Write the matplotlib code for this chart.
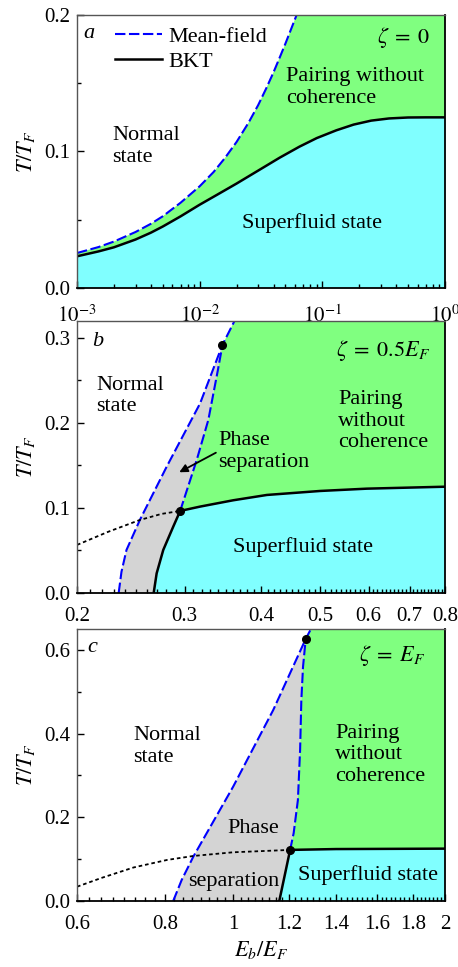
import numpy as np
import matplotlib
matplotlib.use("Agg")
import matplotlib.pyplot as plt
from matplotlib.ticker import FixedLocator, FuncFormatter, NullFormatter, LogLocator, MultipleLocator

plt.rcParams['font.family'] = ['Liberation Serif', 'DejaVu Serif']
plt.rcParams['mathtext.fontset'] = 'stix'

# ---------------- data ----------------
# panel a: zeta = 0
a_mf_x = [0.001, 0.0015, 0.002, 0.003, 0.004, 0.005, 0.007, 0.010, 0.013, 0.016,
          0.020, 0.025, 0.030, 0.035, 0.040, 0.045, 0.050, 0.055, 0.0617]
a_mf_t = [0.0256, 0.0300, 0.0340, 0.0410, 0.0470, 0.0525, 0.0625, 0.0745, 0.0850, 0.0950,
          0.1070, 0.1210, 0.1340, 0.1465, 0.1580, 0.1690, 0.1790, 0.1885, 0.2000]
a_bkt_x = [0.001, 0.0015, 0.002, 0.003, 0.004, 0.005, 0.007, 0.010, 0.014, 0.020, 0.030,
           0.045, 0.065, 0.090, 0.130, 0.180, 0.250, 0.350, 0.500, 0.700, 1.0]
a_bkt_t = [0.0232, 0.0268, 0.0298, 0.0355, 0.0405, 0.0450, 0.0525, 0.0610, 0.0685, 0.0765, 0.0860,
           0.0955, 0.1035, 0.1098, 0.1155, 0.1197, 0.1226, 0.1242, 0.1249, 0.1250, 0.1250]

# panel b: zeta = 0.5 E_F
b_mf_x = [0.234, 0.2365, 0.241, 0.2535, 0.2804, 0.318, 0.346]        # binodal (normal / phase sep.)
b_mf_t = [0.0, 0.025, 0.0506, 0.086, 0.1486, 0.223, 0.292]
b_mfup_x = [0.346, 0.362]                                              # mean-field above tricritical point
b_mfup_t = [0.292, 0.320]
b_sp_x = [0.295, 0.314, 0.328, 0.340, 0.346]                           # spinodal
b_sp_t = [0.0965, 0.1565, 0.2035, 0.262, 0.292]
b_bkt_x = [0.267, 0.270, 0.2768, 0.2874, 0.295, 0.318, 0.360, 0.409, 0.500, 0.596, 0.800]
b_bkt_t = [0.0, 0.0231, 0.0506, 0.078, 0.0965, 0.1016, 0.109, 0.1153, 0.120, 0.1227, 0.125]
b_dot_x = [0.200, 0.225, 0.2535, 0.275, 0.295]                         # metastable BKT
b_dot_t = [0.0565, 0.072, 0.0859, 0.093, 0.0965]
b_pts_x = [0.346, 0.295]
b_pts_t = [0.292, 0.0965]

# panel c: zeta = E_F
c_mf_x = [0.822, 0.845, 0.878, 1.0, 1.14, 1.268]
c_mf_t = [0.0, 0.050, 0.106, 0.273, 0.456, 0.626]
c_mfup_x = [1.268, 1.29]
c_mfup_t = [0.626, 0.650]
c_sp_x = [1.205, 1.219, 1.236, 1.245, 1.250, 1.257, 1.268]
c_sp_t = [0.122, 0.162, 0.241, 0.361, 0.480, 0.560, 0.626]
c_bkt_x = [1.163, 1.205, 1.40, 2.0]
c_bkt_t = [0.0, 0.122, 0.124, 0.125]
c_dot_x = [0.60, 0.65, 0.722, 0.8056, 0.878, 1.0, 1.205]
c_dot_t = [0.034, 0.055, 0.080, 0.098, 0.1075, 0.1163, 0.122]
c_pts_x = [1.268, 1.205]
c_pts_t = [0.626, 0.122]

# ticks
b_major = [0.2, 0.3, 0.4, 0.5, 0.6, 0.7, 0.8]
c_major = [0.6, 0.8, 1.0, 1.2, 1.4, 1.6, 1.8, 2.0]

GREEN = '#80ff80'
CYAN = '#80ffff'
GRAY = '#d4d4d4'
BLUE = '#0000ff'
FS = 16
TFS = 15

MFSTYLE = dict(color=BLUE, lw=1.5, ls=(0, (5, 1.7)))
BKTSTYLE = dict(color='black', lw=1.8)
DOTSTYLE = dict(color='black', lw=1.3, ls=(0, (2, 1.6)))

fig = plt.figure(figsize=(4.58, 9.67), dpi=100)
axa = fig.add_axes([0.1681, 0.7022, 0.8035, 0.2823])
axb = fig.add_axes([0.1681, 0.3868, 0.8035, 0.2813])
axc = fig.add_axes([0.1681, 0.0683, 0.8035, 0.2813])


def style(ax, xpad):
    ax.tick_params(which='both', direction='in', top=False, right=False,
                   labelsize=TFS, width=1.0)
    ax.tick_params(which='major', length=5)
    ax.tick_params(which='minor', length=3)
    ax.tick_params(axis='y', which='major', pad=5)
    ax.tick_params(axis='x', which='major', pad=xpad)
    for s in ['left', 'top']:
        ax.spines[s].set_color('#555555')
        ax.spines[s].set_linewidth(1.0)
    for s in ['right', 'bottom']:
        ax.spines[s].set_color('black')
        ax.spines[s].set_linewidth(1.3)
    ax.set_ylabel(r'$T/T_F$', fontsize=FS)
    ax.yaxis.set_label_coords(-0.11, 0.5)
    ax.yaxis.set_major_formatter(FuncFormatter(lambda v, p: '%.1f' % v))


# ---------------- panel a ----------------
ax = axa
XA0, XA1, YA1 = 1e-3, 1.0, 0.2
ax.set_xscale('log')
ax.set_xlim(XA0, XA1)
ax.set_ylim(0, YA1)
ax.fill_between(a_bkt_x, 0, a_bkt_t, color=CYAN, lw=0)
gx = list(a_mf_x) + [XA1] + a_bkt_x[::-1]
gy = list(a_mf_t) + [YA1] + a_bkt_t[::-1]
ax.fill(gx, gy, color=GREEN, lw=0)
ax.plot(a_mf_x, a_mf_t, label='Mean-field', **MFSTYLE)
ax.plot(a_bkt_x, a_bkt_t, label='BKT', **BKTSTYLE)
style(ax, 12.5)
ax.xaxis.set_major_locator(LogLocator(base=10, numticks=10))
ax.xaxis.set_minor_locator(LogLocator(base=10, subs=np.arange(2, 10), numticks=20))
ax.xaxis.set_major_formatter(FuncFormatter(lambda v, p: r'$10^{%d}$' % int(round(np.log10(v)))))
ax.xaxis.set_minor_formatter(NullFormatter())
ax.yaxis.set_major_locator(MultipleLocator(0.1))
ax.yaxis.set_minor_locator(MultipleLocator(0.05))
leg = ax.legend(loc='upper left', bbox_to_anchor=(0.103, 0.958), frameon=False,
                fontsize=FS, borderpad=0, borderaxespad=0, handlelength=2.1,
                handletextpad=0.3, labelspacing=0.2)
ax.text(0.016, 0.934, 'a', style='italic', fontsize=FS, transform=ax.transAxes, va='center')
ax.text(0.959, 0.916, r'$\zeta\;=\;0$', fontsize=FS, transform=ax.transAxes, ha='right', va='center')
ax.text(0.568, 0.733, 'Pairing without\ncoherence', fontsize=FS, transform=ax.transAxes, va='center')
ax.text(0.095, 0.518, 'Normal\nstate', fontsize=FS, transform=ax.transAxes, va='center')
ax.text(0.448, 0.238, 'Superfluid state', fontsize=FS, transform=ax.transAxes, va='center')

# ---------------- panel b ----------------
ax = axb
XB0, XB1, YB1 = 0.2, 0.8, 0.32
ax.set_xscale('log')
ax.set_xlim(XB0, XB1)
ax.set_ylim(0, YB1)
# phase separation region
px = list(b_mf_x) + b_sp_x[::-1] + b_bkt_x[:5][::-1]
py = list(b_mf_t) + b_sp_t[::-1] + b_bkt_t[:5][::-1]
ax.fill(px, py, color=GRAY, lw=0)
# pairing without coherence
gx = list(b_mfup_x) + [XB1] + b_bkt_x[4:][::-1] + b_sp_x
gy = list(b_mfup_t) + [YB1] + b_bkt_t[4:][::-1] + b_sp_t
ax.fill(gx, gy, color=GREEN, lw=0)
# superfluid
ax.fill(list(b_bkt_x) + [XB1], list(b_bkt_t) + [0], color=CYAN, lw=0)
ax.plot(b_mf_x + b_mfup_x[1:], b_mf_t + b_mfup_t[1:], **MFSTYLE)
ax.plot(b_sp_x, b_sp_t, **MFSTYLE)
ax.plot(b_dot_x, b_dot_t, **DOTSTYLE)
ax.plot(b_bkt_x, b_bkt_t, **BKTSTYLE)
ax.plot(b_pts_x, b_pts_t, 'o', color='black', ms=5.5, zorder=5)
style(ax, 10)
ax.xaxis.set_major_locator(FixedLocator(b_major))
ax.xaxis.set_minor_locator(FixedLocator(np.arange(0.20, 0.805, 0.01)))
ax.xaxis.set_major_formatter(FuncFormatter(lambda v, p: '%g' % v))
ax.xaxis.set_minor_formatter(NullFormatter())
ax.yaxis.set_major_locator(MultipleLocator(0.1))
ax.yaxis.set_minor_locator(MultipleLocator(0.05))
ax.text(0.041, 0.926, 'b', style='italic', fontsize=FS, transform=ax.transAxes, va='center')
ax.text(0.959, 0.893, r'$\zeta\;=\;0.5E_F$', fontsize=FS, transform=ax.transAxes, ha='right', va='center')
ax.text(0.052, 0.724, 'Normal\nstate', fontsize=FS, transform=ax.transAxes, va='center')
ax.text(0.709, 0.632, 'Pairing\nwithout\ncoherence', fontsize=FS, transform=ax.transAxes, va='center')
ax.text(0.383, 0.520, 'Phase\nseparation', fontsize=FS, transform=ax.transAxes, va='center')
ax.text(0.424, 0.169, 'Superfluid state', fontsize=FS, transform=ax.transAxes, va='center')
ax.annotate('', xy=(0.294, 0.142), xytext=(0.3375, 0.165),
            arrowprops=dict(arrowstyle='-|>', color='black', lw=1.3,
                            mutation_scale=12, shrinkA=0, shrinkB=0))

# ---------------- panel c ----------------
ax = axc
XC0, XC1, YC1 = 0.6, 2.0, 0.65
ax.set_xscale('log')
ax.set_xlim(XC0, XC1)
ax.set_ylim(0, YC1)
px = list(c_mf_x) + c_sp_x[::-1] + c_bkt_x[:2][::-1]
py = list(c_mf_t) + c_sp_t[::-1] + c_bkt_t[:2][::-1]
ax.fill(px, py, color=GRAY, lw=0)
gx = list(c_mfup_x) + [XC1] + c_bkt_x[1:][::-1] + c_sp_x
gy = list(c_mfup_t) + [YC1] + c_bkt_t[1:][::-1] + c_sp_t
ax.fill(gx, gy, color=GREEN, lw=0)
ax.fill(list(c_bkt_x) + [XC1], list(c_bkt_t) + [0], color=CYAN, lw=0)
ax.plot(c_mf_x + c_mfup_x[1:], c_mf_t + c_mfup_t[1:], **MFSTYLE)
ax.plot(c_sp_x, c_sp_t, **MFSTYLE)
ax.plot(c_dot_x, c_dot_t, **DOTSTYLE)
ax.plot(c_bkt_x, c_bkt_t, **BKTSTYLE)
ax.plot(c_pts_x, c_pts_t, 'o', color='black', ms=5.5, zorder=5)
style(ax, 10)
ax.xaxis.set_major_locator(FixedLocator(c_major))
ax.xaxis.set_minor_locator(FixedLocator(np.arange(0.6, 2.001, 0.025)))
ax.xaxis.set_major_formatter(FuncFormatter(lambda v, p: '%g' % v))
ax.xaxis.set_minor_formatter(NullFormatter())
ax.yaxis.set_major_locator(MultipleLocator(0.2))
ax.yaxis.set_minor_locator(MultipleLocator(0.1))
ax.set_xlabel(r'$E_b/E_F$', fontsize=FS)
ax.xaxis.set_label_coords(0.5, -0.14)
ax.text(0.027, 0.930, 'c', style='italic', fontsize=FS, transform=ax.transAxes, va='center')
ax.text(0.946, 0.904, r'$\zeta\;=\;E_F$', fontsize=FS, transform=ax.transAxes, ha='right', va='center')
ax.text(0.152, 0.568, 'Normal\nstate', fontsize=FS, transform=ax.transAxes, va='center')
ax.text(0.701, 0.537, 'Pairing\nwithout\ncoherence', fontsize=FS, transform=ax.transAxes, va='center')
ax.text(0.408, 0.268, 'Phase', fontsize=FS, transform=ax.transAxes, va='center')
ax.text(0.302, 0.070, 'separation', fontsize=FS, transform=ax.transAxes, va='center')
ax.text(0.601, 0.096, 'Superfluid state', fontsize=FS, transform=ax.transAxes, va='center')

fig.savefig('out.png', dpi=100)
